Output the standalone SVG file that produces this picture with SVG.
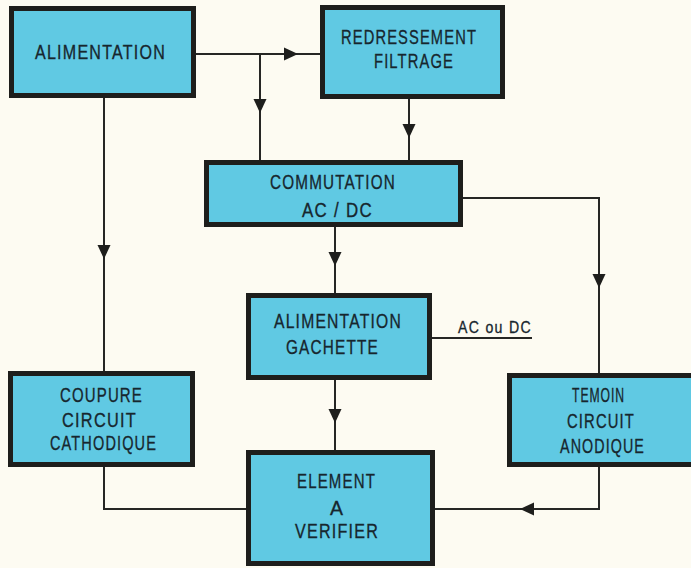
<svg xmlns="http://www.w3.org/2000/svg" xmlns:xlink="http://www.w3.org/1999/xlink" width="691" height="568" viewBox="0 0 691 568">
<style>
.bg{fill:#fdfbf2}
.box{fill:#60c9e3;stroke:#1e1e1c;stroke-width:5}
.t{font-family:"Liberation Sans",Arial,sans-serif;font-size:19.5px;fill:#17262e;letter-spacing:1.5px;stroke:#17262e;stroke-width:0.3}
.s{font-size:16px}
.ln{fill:none;stroke:#262624;stroke-width:2}
.ah{fill:#1e1e1c}
</style>
<defs>
<path id="ah" d="M0,0 L-14,-6.5 L-14,6.5 Z"/>
</defs>
<rect class="bg" x="0" y="0" width="691" height="568"/>
<g id="connectors">
<path class="ln" d="M196,54 H320"/>
<path class="ln" d="M260,54 V162"/>
<path class="ln" d="M409,99 V162"/>
<path class="ln" d="M104,98 V371"/>
<path class="ln" d="M335,227 V293"/>
<path class="ln" d="M463,198 H599 V373"/>
<path class="ln" d="M335,380 V450"/>
<path class="ln" d="M104,467 V509 H246"/>
<path class="ln" d="M599,467 V509 H435"/>
<path class="ln" d="M432,338 H532"/>
<use class="ah" xlink:href="#ah" transform="translate(298,54)"/>
<use class="ah" xlink:href="#ah" transform="translate(260,113) rotate(90)"/>
<use class="ah" xlink:href="#ah" transform="translate(409,138) rotate(90)"/>
<use class="ah" xlink:href="#ah" transform="translate(104,259) rotate(90)"/>
<use class="ah" xlink:href="#ah" transform="translate(335,266) rotate(90)"/>
<use class="ah" xlink:href="#ah" transform="translate(599,288) rotate(90)"/>
<use class="ah" xlink:href="#ah" transform="translate(335,423) rotate(90)"/>
<use class="ah" xlink:href="#ah" transform="translate(520,509) rotate(180)"/>
<text class="t s" x="458" y="333" textLength="74" lengthAdjust="spacingAndGlyphs">AC ou DC</text>
</g>
<g id="alimentation">
<rect class="box" x="11.5" y="8.5" width="182" height="87"/>
<text class="t" x="35" y="59" textLength="131" lengthAdjust="spacingAndGlyphs">ALIMENTATION</text>
</g>
<g id="redressement">
<rect class="box" x="322.5" y="7.5" width="180" height="89"/>
<text class="t" x="341" y="44" textLength="136" lengthAdjust="spacingAndGlyphs">REDRESSEMENT</text>
<text class="t" x="374" y="68" textLength="80" lengthAdjust="spacingAndGlyphs">FILTRAGE</text>
</g>
<g id="commutation">
<rect class="box" x="206.5" y="162.5" width="254" height="62"/>
<text class="t" x="270" y="189" textLength="126" lengthAdjust="spacingAndGlyphs">COMMUTATION</text>
<text class="t" x="302" y="217" textLength="71" lengthAdjust="spacingAndGlyphs">AC / DC</text>
</g>
<g id="gachette">
<rect class="box" x="248.5" y="295.5" width="181" height="82"/>
<text class="t" x="274" y="328" textLength="128" lengthAdjust="spacingAndGlyphs">ALIMENTATION</text>
<text class="t" x="286" y="354" textLength="93" lengthAdjust="spacingAndGlyphs">GACHETTE</text>
</g>
<g id="coupure">
<rect class="box" x="10.5" y="373.5" width="182" height="91"/>
<text class="t" x="60" y="402" textLength="83" lengthAdjust="spacingAndGlyphs">COUPURE</text>
<text class="t" x="62" y="427" textLength="75" lengthAdjust="spacingAndGlyphs">CIRCUIT</text>
<text class="t" x="50" y="450" textLength="107" lengthAdjust="spacingAndGlyphs">CATHODIQUE</text>
</g>
<g id="temoin">
<rect class="box" x="509.5" y="375.5" width="200" height="89"/>
<text class="t" x="572" y="402" textLength="53" lengthAdjust="spacingAndGlyphs">TEMOIN</text>
<text class="t" x="567" y="428" textLength="68" lengthAdjust="spacingAndGlyphs">CIRCUIT</text>
<text class="t" x="560" y="453" textLength="85" lengthAdjust="spacingAndGlyphs">ANODIQUE</text>
</g>
<g id="element">
<rect class="box" x="248.5" y="452.5" width="184" height="111"/>
<text class="t" x="297" y="488" textLength="79" lengthAdjust="spacingAndGlyphs">ELEMENT</text>
<text class="t" x="330" y="515">A</text>
<text class="t" x="295" y="538" textLength="84" lengthAdjust="spacingAndGlyphs">VERIFIER</text>
</g>
</svg>
